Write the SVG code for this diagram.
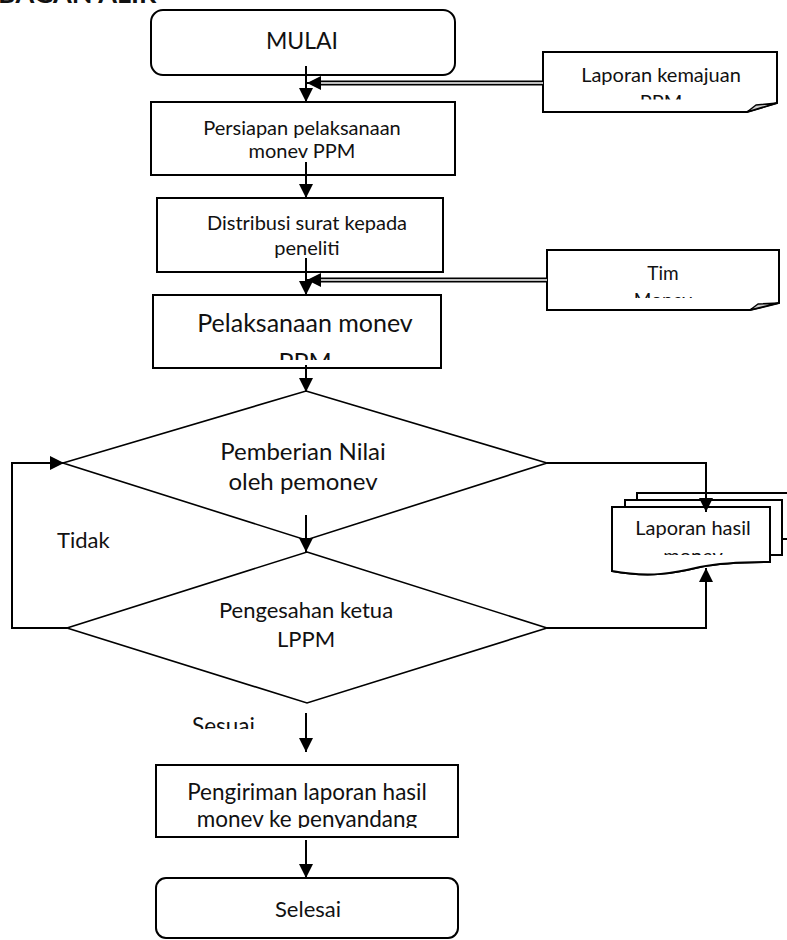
<svg xmlns="http://www.w3.org/2000/svg" width="787" height="940" viewBox="0 0 787 940">
  <style>
    .box { fill: #fff; stroke: #000; stroke-width: 2; }
    .dia { fill: #fff; stroke: #000; stroke-width: 1.6; }
    .ln { fill: none; stroke: #000; stroke-width: 2; }
    .dbl { fill: none; stroke: #000; stroke-width: 5; }
    .dblin { fill: none; stroke: #fff; stroke-width: 1.4; }
    text { font-family: Lato, "Liberation Sans", sans-serif; fill: #111; text-anchor: middle; }
    .fold { fill: #ccc; stroke: #000; stroke-width: 1.5; stroke-linejoin: round; }
  </style>
  <defs>
    <marker id="ah" viewBox="0 0 14 14" refX="14" refY="7" markerWidth="14" markerHeight="14" markerUnits="userSpaceOnUse" orient="auto">
      <path d="M0,0 L14,7 L0,14 Z" fill="#000"/>
    </marker>
    <clipPath id="c-kem"><rect x="543" y="52" width="240" height="47.5"/></clipPath>
    <clipPath id="c-tim"><rect x="547" y="250" width="240" height="48"/></clipPath>
    <clipPath id="c-pel"><rect x="153" y="295" width="290" height="65"/></clipPath>
    <clipPath id="c-has"><rect x="612" y="507" width="160" height="48"/></clipPath>
    <clipPath id="c-ses"><rect x="180" y="705" width="100" height="24"/></clipPath>
    <clipPath id="c-kir"><rect x="156" y="765" width="302" height="63"/></clipPath>
  </defs>

  <!-- heading, cut off by the page top -->
  <text x="-2" y="3" style="text-anchor:start;font-weight:bold;font-size:27px">BAGAN ALIR</text>

  <g id="mulai">
    <rect class="box" x="151" y="10" width="304" height="65" rx="12"/>
    <text x="302" y="49" font-size="23">MULAI</text>
  </g>

  <g id="laporan-kemajuan">
    <path class="box" d="M543,52 H777 V103 L747,112 H543 Z"/>
    <path class="fold" d="M747,112 L756,105 L777,103 Z"/>
    <g clip-path="url(#c-kem)">
      <text x="661" y="82" font-size="20">Laporan kemajuan</text>
      <text x="661" y="109" font-size="20">PPM</text>
    </g>
  </g>

  <g id="persiapan">
    <rect class="box" x="151" y="102" width="304" height="73"/>
    <text x="302" y="135" font-size="20">Persiapan pelaksanaan</text>
    <text x="302" y="158" font-size="20">monev PPM</text>
  </g>

  <g id="distribusi">
    <rect class="box" x="157" y="198" width="286" height="74"/>
    <text x="307" y="230" font-size="20">Distribusi surat kepada</text>
    <text x="307" y="255" font-size="20">peneliti</text>
  </g>

  <g id="tim-monev">
    <path class="box" d="M547,250 H779 V303 L750,310 H547 Z"/>
    <path class="fold" d="M750,310 L758,304 L779,303 Z"/>
    <g clip-path="url(#c-tim)">
      <text x="663" y="280" font-size="19">Tim</text>
      <text x="663" y="307" font-size="19">Monev</text>
    </g>
  </g>

  <g id="pelaksanaan">
    <rect class="box" x="153" y="295" width="288" height="73"/>
    <g clip-path="url(#c-pel)">
      <text x="305" y="332" font-size="25">Pelaksanaan monev</text>
      <text x="305" y="371" font-size="25">PPM</text>
    </g>
  </g>

  <g id="pemberian-nilai">
    <polygon class="dia" points="306,391 547,463 306,540 63,463"/>
    <text x="303" y="460" font-size="24">Pemberian Nilai</text>
    <text x="303" y="490" font-size="24">oleh pemonev</text>
  </g>

  <g id="pengesahan">
    <polygon class="dia" points="307,552 547,628 307,703 67,628"/>
    <text x="306" y="618" font-size="22">Pengesahan ketua</text>
    <text x="306" y="647" font-size="22">LPPM</text>
  </g>

  <g id="laporan-hasil">
    <path class="box" d="M637,493 H800 V539 H782 V555 H770 V562 C750,562 720,563 700,567 C675,573 650,578 612,571 V507 H625 V500 H637 Z"/>
    <path class="ln" d="M625,507 V500 H782 V555"/>
    <path class="ln" d="M637,500 V493 H800"/>
    <path class="box" d="M612,507 H770 V562 C750,562 720,563 700,567 C675,573 650,578 612,571 Z"/>
    <g clip-path="url(#c-has)">
      <text x="693" y="535" font-size="20">Laporan hasil</text>
      <text x="693" y="563" font-size="20">monev</text>
    </g>
  </g>

  <g id="pengiriman">
    <rect class="box" x="156" y="765" width="302" height="72"/>
    <g clip-path="url(#c-kir)">
      <text x="307" y="800" font-size="22.5">Pengiriman laporan hasil</text>
      <text x="307" y="827" font-size="22.5">monev ke penyandang</text>
    </g>
  </g>

  <g id="selesai">
    <rect class="box" x="156" y="878" width="302" height="60" rx="10"/>
    <text x="308" y="917" font-size="22">Selesai</text>
  </g>

  <g id="labels">
    <text x="57" y="548" font-size="22" style="text-anchor:start">Tidak</text>
    <g clip-path="url(#c-ses)">
      <text x="192" y="734" font-size="22.5" style="text-anchor:start">Sesuai</text>
    </g>
  </g>

  <g id="connectors">
    <!-- main flow -->
    <line class="ln" x1="306" y1="66" x2="306" y2="102" marker-end="url(#ah)"/>
    <line class="ln" x1="306" y1="162" x2="306" y2="198" marker-end="url(#ah)"/>
    <line class="ln" x1="306" y1="258" x2="306" y2="295" marker-end="url(#ah)"/>
    <line class="ln" x1="306" y1="365" x2="306" y2="392" marker-end="url(#ah)"/>
    <line class="ln" x1="306" y1="515" x2="306" y2="552" marker-end="url(#ah)"/>
    <line class="ln" x1="306" y1="713" x2="306" y2="752" marker-end="url(#ah)"/>
    <line class="ln" x1="306" y1="840" x2="306" y2="878" marker-end="url(#ah)"/>
    <!-- inputs from the side documents -->
    <line class="dbl" x1="543" y1="83" x2="318" y2="83"/>
    <line class="dblin" x1="543" y1="83" x2="318" y2="83"/>
    <line class="ln" x1="320" y1="83" x2="307" y2="83" marker-end="url(#ah)"/>
    <line class="dbl" x1="547" y1="280" x2="318" y2="280"/>
    <line class="dblin" x1="547" y1="280" x2="318" y2="280"/>
    <line class="ln" x1="320" y1="280" x2="307" y2="280" marker-end="url(#ah)"/>
    <!-- rejection loop -->
    <path class="ln" d="M67,628 H12 V463 H64" marker-end="url(#ah)"/>
    <!-- outputs to the report -->
    <path class="ln" d="M547,463 H706 V512" marker-end="url(#ah)"/>
    <path class="ln" d="M547,628 H706 V568" marker-end="url(#ah)"/>
  </g>
</svg>
